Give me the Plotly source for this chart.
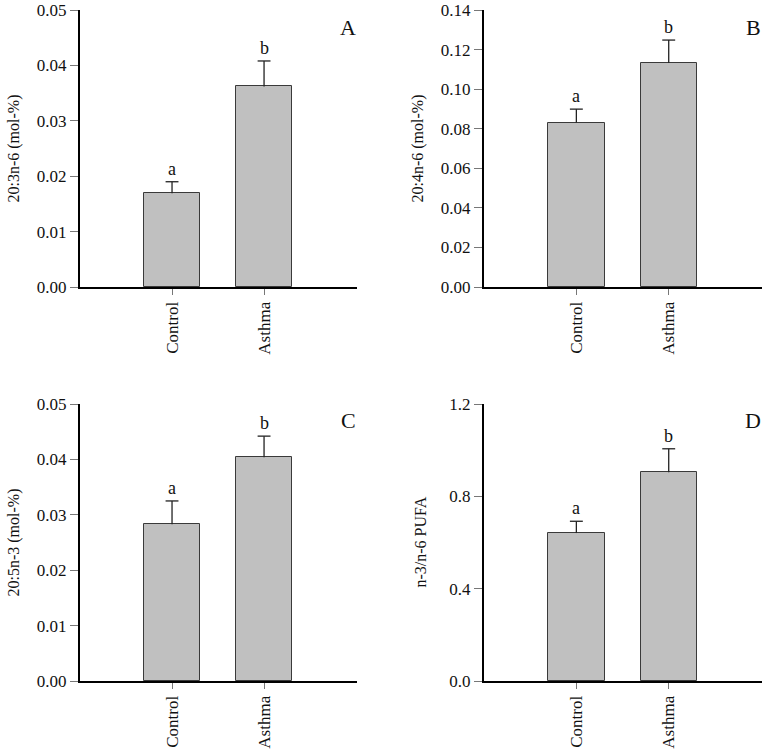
import plotly.graph_objects as go

categories = ["Control", "Asthma"]

a_means = [0.0169, 0.0362]
a_err = [0.0021, 0.0046]
b_means = [0.0831, 0.1132]
b_err = [0.0068, 0.0116]
c_means = [0.0283, 0.0404]
c_err = [0.0042, 0.0038]
d_means = [0.641, 0.904]
d_err = [0.051, 0.102]

sig_letters = ["a", "b"]
panel_letters = ["A", "B", "C", "D"]
y_titles = ["20:3n-6 (mol-%)", "20:4n-6 (mol-%)", "20:5n-3 (mol-%)", "n-3/n-6 PUFA"]
y_ranges = [[0, 0.05], [0, 0.14], [0, 0.05], [0, 1.2]]
y_dticks = [0.01, 0.02, 0.01, 0.4]
y_formats = [".2f", ".2f", ".2f", ".1f"]

W, H = 767, 754
FONT = "Liberation Serif, Times New Roman, serif"

# pixel layout of each panel in the window: (x0, x1, ytop, ybottom)
boxes = [(80, 357, 10, 287), (484, 762, 10, 287), (80, 357, 404, 681), (484, 762, 404, 681)]
title_x = [13, 417, 13, 420]
CAP = 0.07  # half cap width in category units

def px(x):
    return x / W

def py(y):
    return 1 - y / H

fig = go.Figure()
data = [(a_means, a_err), (b_means, b_err), (c_means, c_err), (d_means, d_err)]
annotations = []
for i, ((means, errs), (x0, x1, yt, yb)) in enumerate(zip(data, boxes)):
    n = "" if i == 0 else str(i + 1)
    xa, ya = "x" + n, "y" + n
    fig.add_trace(go.Bar(
        x=[0, 1], y=means, width=0.61,
        marker=dict(color="#c0c0c0", line=dict(color="#3a3a3a", width=1)),
        xaxis=xa, yaxis=ya, showlegend=False, hoverinfo="y",
    ))
    wx, wy = [], []
    for j in range(2):
        top = means[j] + errs[j]
        wx += [j, j, None, j - CAP, j + CAP, None]
        wy += [means[j], top, None, top, top, None]
    fig.add_trace(go.Scatter(
        x=wx, y=wy, mode="lines", line=dict(color="#222222", width=1.3),
        xaxis=xa, yaxis=ya, showlegend=False, hoverinfo="skip",
    ))
    fig.layout["xaxis" + n] = dict(
        domain=[px(x0), px(x1)], anchor=ya, range=[-1.0, 2.01],
        tickvals=[0, 1], ticktext=categories, tickangle=-90,
        showline=True, linecolor="black", linewidth=2, mirror=False,
        ticks="outside", ticklen=6, tickwidth=1, tickcolor="#777777",
        showgrid=False, zeroline=False, automargin=False,
        ticklabeloverflow="allow",
        tickfont=dict(family=FONT, size=17, color="#111111"),
    )
    fig.layout["yaxis" + n] = dict(
        domain=[py(yb), py(yt)], anchor=xa, range=y_ranges[i],
        dtick=y_dticks[i], tick0=0, tickformat=y_formats[i],
        showline=True, linecolor="black", linewidth=2,
        ticks="outside", ticklen=8, tickwidth=1, tickcolor="#777777",
        showgrid=False, zeroline=False, automargin=False,
        ticklabeloverflow="allow",
        tickfont=dict(family=FONT, size=17, color="#111111"),
    )
    for j in range(2):
        annotations.append(dict(
            x=j, y=means[j] + errs[j], xref=xa, yref=ya, text=sig_letters[j],
            showarrow=False, yanchor="bottom", yshift=1,
            font=dict(family=FONT, size=18, color="#111111"),
        ))
    annotations.append(dict(
        x=px(x1 - 9), y=py(yt + 17), xref="paper", yref="paper",
        text=panel_letters[i], showarrow=False, xanchor="center", yanchor="middle",
        font=dict(family=FONT, size=22, color="#111111"),
    ))
    annotations.append(dict(
        x=px(title_x[i]), y=py((yt + yb) / 2), xref="paper", yref="paper",
        text=y_titles[i], showarrow=False, textangle=-90,
        xanchor="center", yanchor="middle",
        font=dict(family=FONT, size=16, color="#111111"),
    ))

fig.update_layout(
    width=W, height=H, margin=dict(l=0, r=0, t=0, b=0, autoexpand=False),
    paper_bgcolor="white", plot_bgcolor="white",
    annotations=annotations, bargap=0,
)
# remove the default 8px body margin so the figure fills the window exactly
fig.write_html("out.html", config={"displayModeBar": False},
               post_script="document.body.style.margin='0px';document.body.style.overflow='hidden';")
